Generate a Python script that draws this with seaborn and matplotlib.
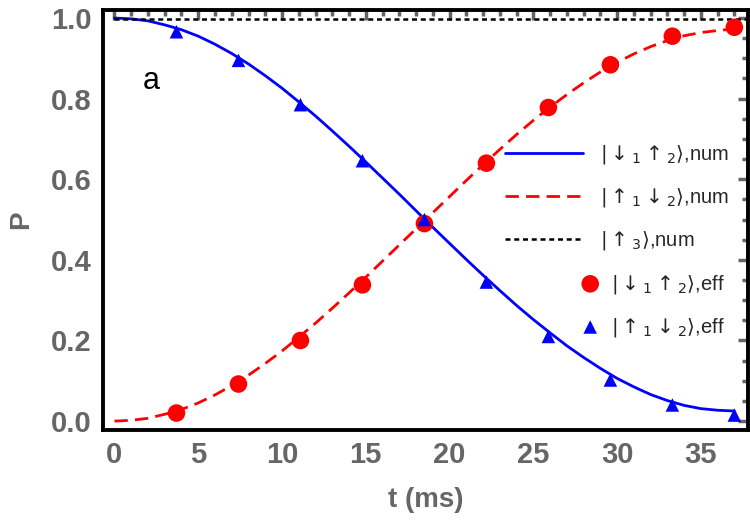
"""Two-level population transfer: numerical curves vs effective-model points."""

import matplotlib

matplotlib.use("Agg")
import matplotlib.pyplot as plt
import pandas as pd
import seaborn as sns
from matplotlib.collections import PathCollection
from matplotlib.legend_handler import HandlerPathCollection
from matplotlib.ticker import MultipleLocator

# numerical curves
t_num = [0, 1, 2, 3, 4, 5, 6, 7, 8, 9, 10, 11, 12, 13, 14, 15, 16, 17, 18,
         19, 20, 21, 22, 23, 24, 25, 26, 27, 28, 29, 30, 31, 32, 33, 34, 35, 36, 37]
p_down_up_num = [1.000, 0.998, 0.993, 0.983, 0.971, 0.955, 0.935, 0.912, 0.886, 0.857,
                 0.826, 0.792, 0.757, 0.720, 0.682, 0.643, 0.603, 0.563, 0.522, 0.481,
                 0.441, 0.401, 0.362, 0.324, 0.287, 0.252, 0.219, 0.187, 0.158, 0.131,
                 0.106, 0.085, 0.066, 0.051, 0.039, 0.031, 0.027, 0.025]
p_up_down_num = [0.000, 0.002, 0.007, 0.017, 0.029, 0.045, 0.065, 0.088, 0.114, 0.143,
                 0.174, 0.208, 0.243, 0.280, 0.318, 0.357, 0.397, 0.437, 0.477, 0.517,
                 0.557, 0.597, 0.636, 0.674, 0.711, 0.746, 0.779, 0.810, 0.839, 0.866,
                 0.890, 0.911, 0.929, 0.944, 0.956, 0.964, 0.969, 0.973]
t_dot = [0, 37.7]
p_up3_num = [0.997, 0.997]

# effective-model points
t_eff = [3.7, 7.4, 11.1, 14.8, 18.5, 22.2, 25.9, 29.6, 33.3, 37.0]
p_circle_eff = [0.020, 0.092, 0.200, 0.338, 0.490, 0.640, 0.778, 0.884, 0.955, 0.977]
p_triangle_eff = [0.966, 0.895, 0.785, 0.646, 0.500, 0.345, 0.210, 0.102, 0.040, 0.015]

labels = [r"$|\downarrow_1\uparrow_2\rangle$,num", r"$|\uparrow_1\downarrow_2\rangle$,num",
          r"$|\uparrow_3\rangle$,num", r"  $|\downarrow_1\uparrow_2\rangle$,eff",
          r"  $|\uparrow_1\downarrow_2\rangle$,eff"]

GRAY = "#666666"


class RightMarker(HandlerPathCollection):
    """Put the legend marker at the right end of the handle, Mathematica style."""

    def get_xdata(self, legend, xdescent, ydescent, width, height, fontsize):
        x = -xdescent + width * 1.09
        return [x], [x]


def main() -> None:
    sns.set_style("white")
    plt.rcParams["font.family"] = ["Liberation Sans", "DejaVu Sans"]

    fig = plt.figure(figsize=(7.5, 5.25), dpi=100)
    ax = fig.add_axes([0.137, 0.181, 0.860, 0.800])

    num = pd.DataFrame({"t": t_num, "a": p_down_up_num, "b": p_up_down_num})
    eff = pd.DataFrame({"t": t_eff, "c": p_circle_eff, "d": p_triangle_eff})
    dot = pd.DataFrame({"t": t_dot, "p": p_up3_num})

    sns.lineplot(data=num, x="t", y="a", ax=ax, color="#0000ff", lw=2.0, label=labels[0])
    sns.lineplot(data=num, x="t", y="b", ax=ax, color="#ff0000", lw=2.0, label=labels[1])
    ax.lines[-1].set_dashes([4.8, 2.6])
    sns.lineplot(data=dot, x="t", y="p", ax=ax, color="black", lw=1.8, label=labels[2])
    ax.lines[-1].set_dashes([2.0, 1.5])
    sns.scatterplot(data=eff, x="t", y="c", ax=ax, color="#ff0000", marker="o", s=160,
                    edgecolor="none", label=labels[3], zorder=4)
    sns.scatterplot(data=eff, x="t", y="d", ax=ax, color="#0000ff", marker="^", s=95,
                    edgecolor="none", label=labels[4], zorder=4)

    ax.set_xlim(-0.7, 37.8)
    ax.set_ylim(-0.022, 1.02)
    ax.xaxis.set_major_locator(MultipleLocator(5))
    ax.xaxis.set_minor_locator(MultipleLocator(1))
    ax.yaxis.set_major_locator(MultipleLocator(0.2))
    ax.yaxis.set_minor_locator(MultipleLocator(0.05))
    ax.yaxis.set_major_formatter(plt.FuncFormatter(lambda v, _: f"{v:.1f}"))

    ax.tick_params(which="both", direction="in", top=True, right=True, color=GRAY, width=2.5)
    ax.tick_params(which="major", length=7, pad=8)
    ax.tick_params(which="minor", length=4)
    for lab in ax.get_xticklabels() + ax.get_yticklabels():
        lab.set_fontweight("bold")
        lab.set_fontsize(21)
        lab.set_color(GRAY)

    for sp in ax.spines.values():
        sp.set_color("black")
        sp.set_linewidth(2.8)

    ax.set_xlabel("t (ms)", fontsize=20, fontweight="bold", color=GRAY, labelpad=13)
    ax.set_ylabel("P", fontsize=20, fontweight="bold", color=GRAY, labelpad=12)

    ax.text(2.2, 0.845, "a", fontsize=22, color="black", ha="center", va="center")

    ax.legend(loc="center left", bbox_to_anchor=(0.623, 0.45), frameon=False, fontsize=14.5,
              handlelength=3.9, handletextpad=0.85, labelspacing=1.0,
              borderaxespad=0.0, borderpad=0.0, scatterpoints=1,
              handler_map={PathCollection: RightMarker()})

    fig.savefig("out.png", dpi=100)
    plt.close(fig)


if __name__ == "__main__":
    main()
